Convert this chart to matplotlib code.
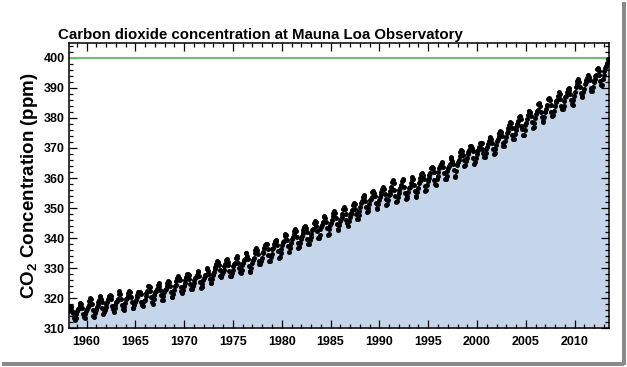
import numpy as np
import matplotlib.pyplot as plt
from matplotlib.ticker import MultipleLocator
from matplotlib.patches import Rectangle

# Monthly mean CO2 at Mauna Loa (ppm), March 1958 .. May 2013
first_year = 1958
first_month = 3
co2 = [
    315.71, 317.45, 317.50, 317.10, 315.86, 314.93, 313.20, 312.66, 313.33, 314.67,  # 1958
    315.62, 316.38, 316.71, 317.72, 318.29, 318.15, 316.54, 314.80, 313.84, 313.26, 314.80, 315.58,
    316.43, 316.97, 317.58, 319.02, 320.03, 319.59, 318.18, 315.91, 314.16, 313.83, 315.00, 316.19,
    316.93, 317.70, 318.54, 319.48, 320.58, 319.77, 318.57, 316.79, 314.80, 315.38, 316.10, 317.01,
    317.94, 318.56, 319.68, 320.63, 321.01, 320.55, 319.58, 317.40, 316.26, 315.42, 316.69, 317.69,
    318.74, 319.08, 319.86, 321.39, 322.25, 321.47, 319.74, 317.77, 316.21, 315.99, 317.12, 318.31,
    319.57, 320.07, 320.73, 321.77, 322.25, 321.89, 320.44, 318.70, 316.70, 316.79, 317.79, 318.71,
    319.44, 320.44, 320.89, 322.13, 322.16, 321.87, 321.39, 318.81, 317.81, 317.30, 318.87, 319.42,
    320.62, 321.59, 322.39, 323.87, 324.01, 323.75, 322.39, 320.37, 318.64, 318.10, 319.79, 321.08,
    322.07, 322.50, 323.04, 324.42, 325.00, 324.09, 322.55, 320.92, 319.31, 319.31, 320.72, 321.96,
    322.57, 323.15, 323.89, 325.02, 325.57, 325.36, 324.14, 322.03, 320.41, 320.25, 321.31, 322.84,
    324.00, 324.42, 325.64, 326.66, 327.38, 326.70, 325.89, 323.67, 322.38, 321.78, 322.85, 324.12,
    325.03, 325.99, 326.87, 328.13, 328.07, 327.66, 326.35, 324.69, 323.10, 323.16, 323.98, 325.13,
    326.17, 326.68, 327.18, 327.78, 328.92, 328.57, 327.34, 325.46, 323.36, 323.57, 324.80, 326.01,
    326.77, 327.63, 327.75, 329.72, 330.07, 329.09, 328.05, 326.32, 324.93, 325.06, 326.50, 327.55,
    328.54, 329.56, 330.30, 331.50, 332.48, 332.07, 330.87, 329.31, 327.51, 327.18, 328.16, 328.64,
    329.35, 330.71, 331.48, 332.65, 333.16, 332.06, 330.99, 329.17, 327.41, 327.20, 328.33, 329.50,
    330.68, 331.41, 331.85, 333.29, 333.91, 333.40, 331.78, 329.88, 328.57, 328.46, 329.26, 330.97,
    331.70, 332.66, 333.13, 334.95, 334.87, 334.14, 333.03, 330.67, 328.96, 328.77, 330.18, 331.65,
    332.69, 333.23, 334.97, 336.03, 336.82, 336.13, 334.73, 332.52, 331.19, 331.19, 332.35, 333.47,
    335.11, 335.26, 336.60, 337.77, 338.00, 337.99, 336.48, 334.37, 332.27, 332.41, 333.76, 334.83,
    336.21, 336.64, 338.12, 338.95, 339.05, 339.27, 337.62, 335.68, 333.38, 333.78, 335.16, 336.48,
    337.63, 338.54, 339.06, 340.57, 341.19, 340.87, 339.25, 337.19, 335.49, 336.63, 337.74, 338.36,
    339.57, 340.42, 341.38, 342.51, 342.91, 342.25, 340.49, 338.43, 336.69, 336.86, 338.36, 339.61,
    340.75, 341.61, 342.70, 343.57, 344.14, 343.35, 342.06, 339.81, 337.98, 337.86, 339.26, 340.49,
    341.38, 342.52, 343.10, 344.94, 345.76, 345.32, 343.98, 342.38, 339.87, 339.99, 341.15, 342.99,
    343.70, 344.51, 345.28, 347.08, 347.43, 346.79, 345.40, 343.28, 341.07, 341.35, 342.98, 344.22,
    344.97, 345.99, 347.42, 348.35, 348.93, 348.25, 346.56, 344.67, 343.09, 342.80, 344.24, 345.56,
    346.30, 346.95, 347.85, 349.55, 350.21, 349.54, 347.94, 345.91, 344.86, 344.17, 345.66, 346.90,
    348.02, 348.48, 349.42, 350.99, 351.84, 351.25, 349.52, 348.10, 346.44, 346.36, 347.81, 348.96,
    350.43, 351.72, 352.22, 353.59, 354.22, 353.79, 352.39, 350.44, 348.72, 348.88, 350.07, 351.34,
    352.76, 353.07, 353.68, 355.42, 355.67, 355.12, 353.90, 351.67, 349.80, 349.99, 351.30, 352.53,
    353.66, 354.70, 355.39, 356.20, 357.16, 356.22, 354.82, 352.91, 350.96, 351.18, 352.83, 354.21,
    354.72, 355.75, 357.16, 358.60, 359.34, 358.24, 356.17, 354.03, 352.16, 352.21, 353.75, 354.99,
    355.98, 356.72, 357.81, 359.15, 359.66, 359.25, 357.02, 355.00, 353.01, 353.31, 354.16, 355.40,
    356.70, 357.16, 358.38, 359.46, 360.28, 359.60, 357.57, 355.52, 353.70, 353.98, 355.33, 356.80,
    358.36, 358.91, 359.97, 361.26, 361.68, 360.95, 359.55, 357.49, 355.84, 356.00, 357.59, 359.05,
    359.98, 361.03, 361.66, 363.48, 363.82, 363.30, 361.94, 359.50, 358.11, 357.80, 359.61, 360.74,
    362.09, 363.29, 364.06, 364.76, 365.45, 365.01, 363.70, 361.54, 359.51, 359.65, 360.80, 362.38,
    363.23, 364.06, 364.61, 366.40, 366.84, 365.68, 364.52, 362.57, 360.24, 360.83, 362.49, 364.34,
    365.27, 365.98, 367.24, 368.66, 369.42, 368.99, 367.82, 365.95, 364.02, 364.40, 365.52, 366.83,
    367.97, 368.83, 369.46, 370.77, 370.66, 370.10, 369.08, 366.66, 364.60, 365.17, 366.51, 367.85,
    369.07, 369.32, 370.38, 371.63, 371.32, 371.53, 369.75, 368.23, 366.87, 366.94, 368.27, 369.64,
    370.47, 371.44, 372.39, 373.32, 373.77, 373.13, 371.51, 369.59, 368.12, 368.38, 369.64, 371.11,
    372.38, 373.08, 373.87, 374.93, 375.58, 375.44, 373.91, 371.77, 370.72, 370.50, 372.19, 373.71,
    374.92, 375.63, 376.51, 377.75, 378.54, 378.20, 376.68, 374.43, 373.11, 373.10, 374.77, 375.97,
    377.03, 377.87, 378.88, 380.42, 380.62, 379.70, 377.43, 376.32, 374.19, 374.47, 376.15, 377.51,
    378.43, 379.70, 380.91, 382.20, 382.45, 382.14, 380.60, 378.64, 376.73, 376.84, 378.29, 380.06,
    381.40, 382.20, 382.66, 384.69, 384.94, 384.01, 382.14, 380.31, 378.81, 379.03, 380.17, 381.85,
    382.94, 383.86, 384.49, 386.37, 386.54, 385.98, 384.36, 381.85, 380.74, 381.15, 382.38, 383.94,
    385.44, 385.73, 385.97, 387.16, 388.50, 387.88, 386.42, 384.15, 383.09, 382.99, 384.13, 385.56,
    386.94, 387.48, 388.82, 389.55, 390.14, 389.48, 388.03, 386.11, 384.74, 384.43, 386.02, 387.42,
    388.71, 390.20, 391.17, 392.46, 393.00, 392.15, 390.20, 388.35, 386.85, 387.24, 388.67, 389.79,
    391.33, 391.86, 392.60, 393.25, 394.19, 393.74, 392.51, 390.13, 389.08, 389.00, 390.28, 391.86,
    393.12, 393.86, 394.40, 396.18, 396.74, 395.71, 394.36, 392.39, 391.11, 391.05, 392.98, 394.34,
    395.55, 396.80, 397.43, 398.41, 399.78,  # 2013
]
threshold = 400
xticks = [1960, 1965, 1970, 1975, 1980, 1985, 1990, 1995, 2000, 2005, 2010]
yticks = [310, 320, 330, 340, 350, 360, 370, 380, 390, 400]

# decimal year of each monthly mean (mid-month)
idx = np.arange(len(co2)) + (first_month - 1)
years = first_year + (idx + 0.5) / 12.0
co2 = np.array(co2)

plt.rcParams['font.family'] = ['Liberation Sans', 'DejaVu Sans']
plt.rcParams['font.weight'] = 'bold'
plt.rcParams['mathtext.fontset'] = 'custom'
plt.rcParams['mathtext.bf'] = 'Liberation Sans:bold'
plt.rcParams['mathtext.rm'] = 'Liberation Sans:bold'

fig = plt.figure(figsize=(6.27, 3.67), dpi=100)
ax = fig.add_axes([0.110, 0.106, 0.861, 0.777])

ax.fill_between(years, co2, 300, color='#c5d6ea', lw=0, zorder=1)
ax.axhline(threshold, color='#6cbf72', lw=1.5, zorder=2)
ax.plot(years, co2, 'o', color='black', ms=3.6, mew=0, zorder=3)

ax.set_xlim(1958.2, 2013.5)
ax.set_ylim(310, 405)
ax.set_xticks(xticks)
ax.set_yticks(yticks)
ax.xaxis.set_minor_locator(MultipleLocator(1))
ax.yaxis.set_minor_locator(MultipleLocator(2))
ax.tick_params(which='both', direction='in', top=True, right=True,
               labelsize=9, width=0.9)
ax.tick_params(which='major', length=6)
ax.tick_params(which='minor', length=3)
ax.tick_params(axis='x', pad=6)
ax.tick_params(axis='y', pad=3)
for s in ax.spines.values():
    s.set_linewidth(1.1)

ax.set_title('Carbon dioxide concentration at Mauna Loa Observatory',
             fontsize=10.8, fontweight='bold', loc='left', x=-0.02, pad=3)
ax.set_ylabel('CO$_\\mathrm{2}$ Concentration (ppm)', fontsize=13.5,
              fontweight='bold', labelpad=3)

# screenshot frame with drop shadow
fig.patches.append(Rectangle((622 / 627, 2 / 367), 4 / 627, 363 / 367,
                             transform=fig.transFigure, color='#8a8a8a', lw=0))
fig.patches.append(Rectangle((2 / 627, 1 / 367), 622 / 627, 4 / 367,
                             transform=fig.transFigure, color='#8a8a8a', lw=0))

fig.savefig('out.png', dpi=100)
